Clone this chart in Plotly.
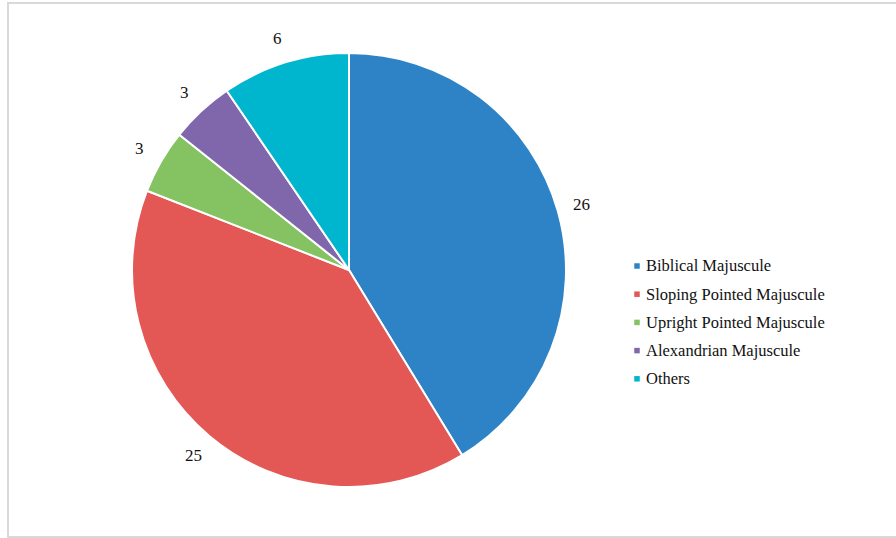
import math
import plotly.graph_objects as go

# Script categories and counts of manuscripts
scripts = [
    "Biblical Majuscule",
    "Sloping Pointed Majuscule",
    "Upright Pointed Majuscule",
    "Alexandrian Majuscule",
    "Others",
]
counts = [26, 25, 3, 3, 6]
colors = ["#2E83C6", "#E35755", "#84C262", "#8066AB", "#00B5CE"]

W, H = 896, 538
cx, cy, r = 349, 270, 217      # pie centre and radius in pixels
label_r = 242                  # radius at which the value labels sit
serif = "Liberation Serif"

fig = go.Figure(
    go.Pie(
        labels=scripts,
        values=counts,
        sort=False,
        direction="clockwise",
        rotation=0,
        marker=dict(colors=colors, line=dict(color="white", width=2)),
        textinfo="none",
        domain=dict(
            x=[(cx - r) / W, (cx + r) / W],
            y=[(H - cy - r) / H, (H - cy + r) / H],
        ),
        hoverinfo="label+value",
        showlegend=False,
    )
)

annotations = []
shapes = []

# value labels outside each slice, at the slice's mid angle
total = sum(counts)
cum = 0
for v in counts:
    mid = (cum + v / 2) / total * 2 * math.pi
    cum += v
    px = cx + label_r * math.sin(mid)
    py = cy - label_r * math.cos(mid)
    annotations.append(dict(
        x=px / W, y=1 - py / H, xref="paper", yref="paper",
        text=str(v), showarrow=False, xanchor="center", yanchor="middle",
        font=dict(family=serif, size=17, color="#111111"),
    ))

# legend: small colour squares followed by the script names
leg_x, leg_y0, leg_step, sq = 637, 266, 28.2, 5.5
for i, (name, col) in enumerate(zip(scripts, colors)):
    yy = leg_y0 + i * leg_step
    shapes.append(dict(
        type="rect", xref="paper", yref="paper",
        x0=(leg_x - sq / 2) / W, x1=(leg_x + sq / 2) / W,
        y0=1 - (yy + sq / 2) / H, y1=1 - (yy - sq / 2) / H,
        fillcolor=col, line=dict(width=0),
    ))
    annotations.append(dict(
        x=(leg_x + 7) / W, y=1 - yy / H, xref="paper", yref="paper",
        text=name, showarrow=False, xanchor="left", yanchor="middle",
        font=dict(family=serif, size=16.5, color="#111111"),
    ))

# chart area border
shapes.append(dict(
    type="rect", xref="paper", yref="paper",
    x0=8 / W, x1=1.01, y0=1 / H, y1=(H - 3) / H,
    line=dict(color="#D9D9D9", width=2),
    fillcolor="rgba(0,0,0,0)", layer="below",
))

fig.update_layout(
    width=W,
    height=H,
    margin=dict(l=0, r=0, t=0, b=0),
    paper_bgcolor="white",
    font=dict(family=serif, size=16, color="#111111"),
    showlegend=False,
    annotations=annotations,
    shapes=shapes,
)

fig.write_html("out.html")
